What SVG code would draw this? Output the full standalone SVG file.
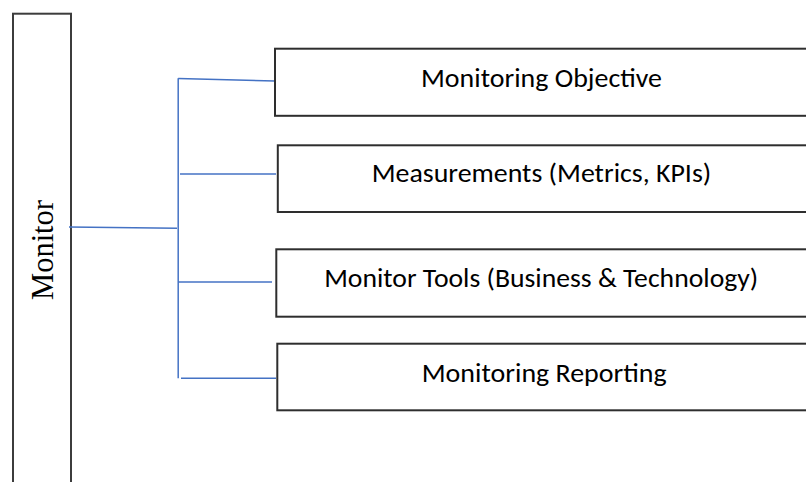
<svg xmlns="http://www.w3.org/2000/svg" width="806" height="482" viewBox="0 0 806 482">
  <style>
    .box { fill: #ffffff; stroke: #2e2e2e; stroke-width: 2; }
    .side { fill: #ffffff; stroke: #3c3c3c; stroke-width: 2; }
    .lbl { font-family: "Carlito", "Lato", "Liberation Sans", sans-serif; font-size: 26px; fill: #000000; text-anchor: middle; }
    .vlbl { font-family: "Liberation Serif", "Times New Roman", serif; font-size: 30.5px; fill: #000000; text-anchor: middle; }
    .conn { fill: none; stroke: #4472c4; stroke-width: 1.5; }
  </style>
  <rect width="806" height="482" fill="#ffffff"/>
  <g id="monitor">
    <rect class="side" x="13" y="13.7" width="58" height="480"/>
    <text class="vlbl" transform="translate(53,250) rotate(-90)">Monitor</text>
  </g>
  <g id="connectors">
    <line class="conn" x1="69" y1="227" x2="177" y2="228.3"/>
    <line class="conn" x1="178.2" y1="78.3" x2="178.2" y2="378.3"/>
    <line class="conn" x1="178.2" y1="78.5" x2="275" y2="81"/>
    <line class="conn" x1="180" y1="174" x2="276" y2="174"/>
    <line class="conn" x1="178.2" y1="282" x2="272" y2="282"/>
    <line class="conn" x1="181" y1="378.3" x2="276" y2="378.3"/>
  </g>
  <g id="objective">
    <rect class="box" x="275" y="48.7" width="540" height="67.1"/>
    <text class="lbl" x="541.5" y="86.7" textLength="241" lengthAdjust="spacingAndGlyphs">Monitoring Objective</text>
  </g>
  <g id="measurements">
    <rect class="box" x="277.8" y="145.3" width="540" height="66.7"/>
    <text class="lbl" x="541.5" y="182.3" textLength="339.5" lengthAdjust="spacingAndGlyphs">Measurements (Metrics, KPIs)</text>
  </g>
  <g id="tools">
    <rect class="box" x="276.3" y="249.3" width="540" height="67.4"/>
    <text class="lbl" x="541.2" y="286.7" textLength="434" lengthAdjust="spacingAndGlyphs">Monitor Tools (Business &amp; Technology)</text>
  </g>
  <g id="reporting">
    <rect class="box" x="277.3" y="343.7" width="540" height="66.6"/>
    <text class="lbl" x="544.2" y="381.7" textLength="245" lengthAdjust="spacingAndGlyphs">Monitoring Reporting</text>
  </g>
</svg>
